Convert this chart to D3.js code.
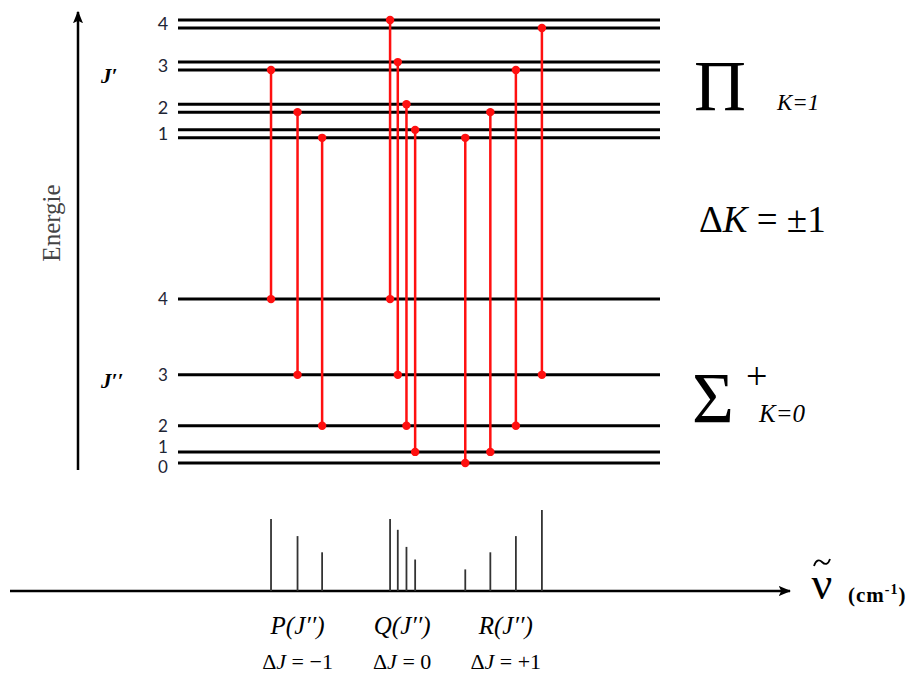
<!DOCTYPE html>
<html>
<head>
<meta charset="utf-8">
<script src="https://cdn.jsdelivr.net/npm/d3@7"></script>
<style>
  html, body { margin: 0; padding: 0; background: #fff; }
  svg { display: block; }
  .serif { font-family: "Liberation Serif", "Times New Roman", "DejaVu Serif", serif; }
</style>
</head>
<body>
<svg id="chart" width="917" height="678"></svg>
<script>
// ---------- DATA ----------
// Rotational quantum numbers
const levelJ = [0, 1, 2, 3, 4];
// Lower state (Sigma+, K=0) energies, arbitrary units
const lowerEnergy = [0, 2.5, 8.4, 19.9, 37.0];
// Upper state (Pi, K=1) energies, split into two components (J' = 1..4)
const upperJ = [1, 2, 3, 4];
const upperEnergyE = [75.2, 81.0, 90.5, 100.0];
const upperEnergyF = [73.4, 79.2, 88.7, 98.2];
// Transitions: branch, J'' (lower), J' (upper), upper component
const transBranch = ["P", "P", "P", "Q", "Q", "Q", "Q", "R", "R", "R", "R"];
const transJlow   = [4, 3, 2, 4, 3, 2, 1, 0, 1, 2, 3];
const transJup    = [3, 2, 1, 4, 3, 2, 1, 1, 2, 3, 4];
const transComp   = ["f", "f", "f", "e", "e", "e", "e", "f", "f", "f", "f"];
// Wavenumber positions (arbitrary units) and relative intensities
const transWavenumber = [19.3, 24.8, 29.9, 44.0, 45.6, 47.4, 49.2, 59.6, 64.8, 70.1, 75.5];
const transIntensity  = [80, 61, 43, 80, 68, 49, 35, 24, 43, 61, 90];
// Branch labels
const branchNames = ["P(J\u2032\u2032)", "Q(J\u2032\u2032)", "R(J\u2032\u2032)"];
const branchDelta = ["\u22121", "0", "+1"];
const branchCenter = [24.8, 46.5, 68.0];

// ---------- SCALES ----------
const svg = d3.select("#chart");
const x = d3.scaleLinear().domain([0, 100]).range([178, 660]);
const yE = d3.scaleLinear().domain([0, 100]).range([463, 20]);
const yI = d3.scaleLinear().domain([0, 100]).range([591, 501]);

// arrow marker
const defs = svg.append("defs");
defs.append("marker").attr("id", "arr").attr("viewBox", "0 0 10 10")
  .attr("refX", 9).attr("refY", 5).attr("markerWidth", 5).attr("markerHeight", 5)
  .attr("markerUnits", "strokeWidth").attr("orient", "auto")
  .append("path").attr("d", "M0,1 L10,5 L0,9 L2,5 Z").attr("fill", "#000");

// ---------- ENERGY AXIS ----------
svg.append("line").attr("x1", 78).attr("x2", 78).attr("y1", 470).attr("y2", 12)
  .attr("stroke", "#000").attr("stroke-width", 2.5).attr("marker-end", "url(#arr)");
svg.append("text").attr("class", "serif").attr("transform", "translate(60,223) rotate(-90)")
  .attr("text-anchor", "middle").attr("font-size", 25)
  .attr("fill", "#444").text("Energie");
svg.append("text").attr("class", "serif").attr("x", 101).attr("y", 83)
  .attr("font-style", "italic").attr("font-weight", "bold").attr("font-size", 21).text("J\u2032");
svg.append("text").attr("class", "serif").attr("x", 101).attr("y", 388)
  .attr("font-style", "italic").attr("font-weight", "bold").attr("font-size", 21).text("J\u2032\u2032");

// ---------- LEVELS ----------
const levels = svg.append("g");
const allUpper = upperEnergyE.concat(upperEnergyF);
levels.selectAll("line.lo").data(lowerEnergy).join("line")
  .attr("x1", x(0)).attr("x2", x(100)).attr("y1", d => yE(d)).attr("y2", d => yE(d))
  .attr("stroke", "#000").attr("stroke-width", 3);
levels.selectAll("line.up").data(allUpper).join("line")
  .attr("class", "up")
  .attr("x1", x(0)).attr("x2", x(100)).attr("y1", d => yE(d)).attr("y2", d => yE(d))
  .attr("stroke", "#000").attr("stroke-width", 3);

const labFont = "Lato, 'Open Sans', sans-serif";
const lowLabelOffset = [4, -5, 0, 0, 0];
svg.selectAll("text.lolab").data(levelJ).join("text").attr("class", "lolab")
  .attr("x", 163).attr("y", (d, i) => yE(lowerEnergy[i]) + lowLabelOffset[i])
  .attr("dy", "0.35em").attr("text-anchor", "middle")
  .attr("font-family", labFont).attr("font-size", 17).attr("fill", "#1e2535").text(d => d);
svg.selectAll("text.uplab").data(upperJ).join("text").attr("class", "uplab")
  .attr("x", 163).attr("y", (d, i) => (yE(upperEnergyE[i]) + yE(upperEnergyF[i])) / 2)
  .attr("dy", "0.35em").attr("text-anchor", "middle")
  .attr("font-family", labFont).attr("font-size", 18).attr("fill", "#1e2535").text(d => d);

// ---------- TRANSITIONS ----------
const trans = transBranch.map((b, i) => ({
  b, jl: transJlow[i], ju: transJup[i], c: transComp[i],
  v: transWavenumber[i], I: transIntensity[i]
}));
const upE = t => (t.c === "e" ? upperEnergyE : upperEnergyF)[upperJ.indexOf(t.ju)];
const loE = t => lowerEnergy[levelJ.indexOf(t.jl)];
const tg = svg.append("g");
tg.selectAll("line").data(trans).join("line")
  .attr("x1", d => x(d.v)).attr("x2", d => x(d.v))
  .attr("y1", d => yE(upE(d))).attr("y2", d => yE(loE(d)))
  .attr("stroke", "#ff1010").attr("stroke-width", 2.5);
tg.selectAll("circle.u").data(trans).join("circle").attr("class", "u")
  .attr("cx", d => x(d.v)).attr("cy", d => yE(upE(d))).attr("r", 4.2).attr("fill", "#ff1010");
tg.selectAll("circle.l").data(trans).join("circle").attr("class", "l")
  .attr("cx", d => x(d.v)).attr("cy", d => yE(loE(d))).attr("r", 4.2).attr("fill", "#ff1010");

// ---------- SPECTRUM ----------
svg.append("line").attr("x1", 10).attr("x2", 790).attr("y1", yI(0)).attr("y2", yI(0))
  .attr("stroke", "#000").attr("stroke-width", 2.5).attr("marker-end", "url(#arr)");
svg.append("g").selectAll("line").data(trans).join("line")
  .attr("x1", d => x(d.v)).attr("x2", d => x(d.v))
  .attr("y1", yI(0)).attr("y2", d => yI(d.I))
  .attr("stroke", "#333").attr("stroke-width", 1.8);

// nu label with a drawn tilde above it
svg.append("text").attr("class", "serif").attr("x", 822).attr("y", 599)
  .attr("text-anchor", "middle").attr("font-size", 46).text("\u03bd");
svg.append("path")
  .attr("d", "M814,566 C816,560 819,559 822,562 C825,565 828,565 830,559")
  .attr("fill", "none").attr("stroke", "#000").attr("stroke-width", 1.8);
const cm = svg.append("text").attr("class", "serif").attr("x", 848).attr("y", 602)
  .attr("font-weight", "bold").attr("font-size", 21).attr("letter-spacing", 1);
cm.append("tspan").text("(cm");
cm.append("tspan").attr("font-size", 14).attr("dy", -8).text("-1");
cm.append("tspan").attr("dy", 8).text(")");

// branch labels
svg.selectAll("text.bn").data(branchNames).join("text").attr("class", "bn serif")
  .attr("x", (d, i) => x(branchCenter[i])).attr("y", 634).attr("text-anchor", "middle")
  .attr("font-style", "italic").attr("font-size", 25).text(d => d);
const dl = svg.selectAll("text.dl").data(branchDelta).join("text").attr("class", "dl serif")
  .attr("x", (d, i) => x(branchCenter[i])).attr("y", 669).attr("text-anchor", "middle")
  .attr("font-size", 22);
dl.append("tspan").text("\u0394");
dl.append("tspan").attr("font-style", "italic").text("J");
dl.append("tspan").text(d => " = " + d);

// ---------- STATE LABELS ----------
svg.append("text").attr("class", "serif").attr("x", 694).attr("y", 110)
  .attr("font-size", 72).text("\u03a0");
svg.append("text").attr("class", "serif").attr("x", 777).attr("y", 110)
  .attr("font-style", "italic").attr("font-size", 23).text("K=1");
const dk = svg.append("text").attr("class", "serif").attr("x", 699).attr("y", 232)
  .attr("font-size", 37);
dk.append("tspan").text("\u0394");
dk.append("tspan").attr("font-style", "italic").text("K");
dk.append("tspan").text(" = \u00b11");
svg.append("text").attr("class", "serif").attr("x", 692).attr("y", 422)
  .attr("font-size", 72).text("\u03a3");
svg.append("text").attr("class", "serif").attr("x", 746).attr("y", 389)
  .attr("font-size", 38).text("+");
svg.append("text").attr("class", "serif").attr("x", 759).attr("y", 422)
  .attr("font-style", "italic").attr("font-size", 25).text("K=0");
</script>
</body>
</html>
